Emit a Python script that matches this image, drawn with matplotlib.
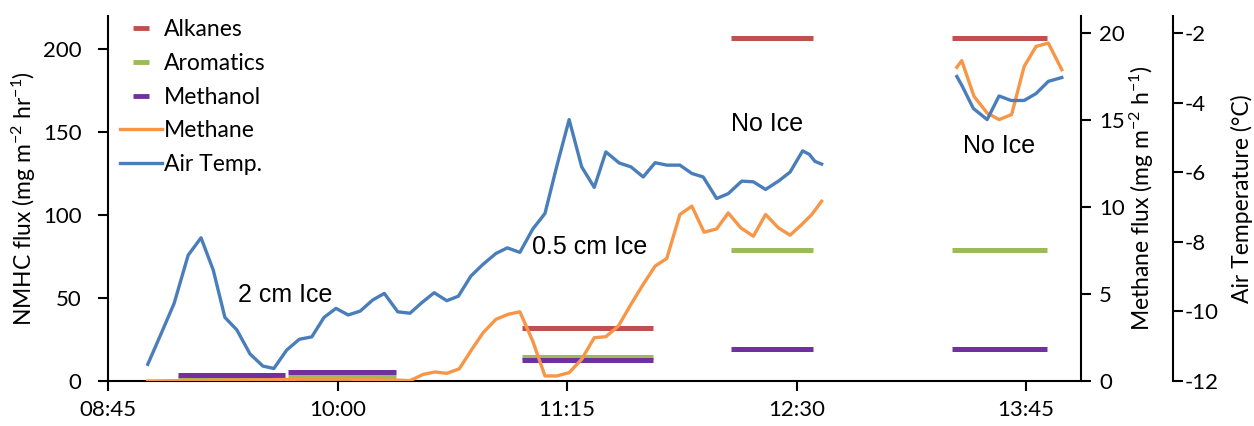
import matplotlib
matplotlib.use("Agg")
import matplotlib.pyplot as plt
from matplotlib.lines import Line2D

# ---------------- data (minutes after 08:45) ----------------
tick_pos = [0, 75, 150, 225, 300]
tick_labels = ["08:45", "10:00", "11:15", "12:30", "13:45"]

# air temperature, first period
temp_t1 = [13.0, 17.3, 21.6, 26.2, 30.4, 34.4, 38.2, 42.1, 46.4, 50.6, 54.2, 58.4, 62.5, 66.6,
           70.6, 74.5, 78.5, 82.4, 86.5, 90.3, 94.7, 98.7, 102.5, 106.6, 110.7, 114.5, 118.6,
           122.6, 126.8, 130.5, 134.6, 138.8, 142.8, 146.6, 150.7, 154.8, 158.9, 162.7, 167.1,
           170.9, 174.9, 178.8, 182.6, 186.9, 190.8, 194.5, 198.9, 202.7, 207.1, 210.9, 214.9,
           219.1, 222.9, 227.0, 229.2, 231.0, 233.2]
temp_v1 = [-11.52, -10.65, -9.77, -8.38, -7.88, -8.81, -10.17, -10.53, -11.22, -11.57, -11.64,
           -11.11, -10.80, -10.73, -10.17, -9.91, -10.10, -9.99, -9.67, -9.48, -10.01, -10.05,
           -9.75, -9.46, -9.69, -9.56, -8.98, -8.64, -8.33, -8.17, -8.30, -7.63, -7.18, -5.84,
           -4.48, -5.84, -6.43, -5.41, -5.73, -5.84, -6.13, -5.72, -5.79, -5.79, -6.03, -6.13,
           -6.75, -6.61, -6.25, -6.27, -6.49, -6.25, -5.99, -5.38, -5.48, -5.68, -5.76]
# air temperature, second period
temp_t2 = [277.4, 279.0, 282.8, 287.3, 291.2, 295.1, 299.4, 303.3, 307.3, 311.7]
temp_v2 = [-3.24, -3.49, -4.16, -4.48, -3.80, -3.93, -3.93, -3.73, -3.38, -3.27]

# methane flux, first period
ch4_t1 = [13.0, 21.6, 30.4, 38.2, 46.4, 54.2, 62.5, 70.6, 78.5, 86.5, 94.7, 98.7, 103.0,
          106.9, 110.7, 114.8, 118.9, 122.6, 126.8, 130.8, 134.6, 138.8, 142.8, 146.6, 150.7,
          154.8, 158.9, 162.7, 166.8, 170.9, 174.9, 178.8, 182.6, 186.9, 190.8, 194.8, 198.9,
          202.7, 206.8, 210.9, 214.9, 219.1, 222.9, 226.7, 230.0, 233.2]
ch4_v1 = [0.0, 0.02, 0.04, 0.05, 0.06, 0.08, 0.1, 0.1, 0.1, 0.08, 0.05, 0.02, 0.38,
          0.52, 0.44, 0.70, 1.82, 2.78, 3.55, 3.84, 3.98, 2.30, 0.29, 0.29, 0.48,
          1.25, 2.49, 2.55, 3.16, 4.41, 5.56, 6.61, 7.05, 9.58, 10.06, 8.56, 8.75,
          9.67, 8.81, 8.33, 9.58, 8.81, 8.39, 9.00, 9.58, 10.34]
# methane flux, second period
ch4_t2 = [277.4, 279.0, 283.0, 287.3, 291.2, 295.3, 299.4, 303.3, 307.3, 311.7]
ch4_v2 = [18.05, 18.43, 16.38, 15.42, 15.04, 15.33, 18.10, 19.25, 19.44, 17.91]

# NMHC flux periods
seg_start = [22.8, 58.9, 135.2, 203.5, 275.7]
seg_end = [57.8, 94.0, 178.0, 230.5, 306.8]
alkanes = [0.3, 0.3, 32.0, 207.0, 207.0]
aromatics = [1.2, 2.4, 14.3, 79.0, 79.0]
methanol = [3.6, 5.6, 12.8, 19.3, 19.3]

annotations = [("2 cm Ice", 57.8, 52), ("0.5 cm Ice", 157.5, 81),
               ("No Ice", 215.4, 155), ("No Ice", 291.2, 141.5)]

# ---------------- style ----------------
plt.rcParams['font.family'] = ['Lato', 'DejaVu Sans']
plt.rcParams['mathtext.fontset'] = 'custom'
plt.rcParams['mathtext.rm'] = 'Lato'
plt.rcParams['mathtext.it'] = 'Lato'
plt.rcParams['mathtext.default'] = 'regular'
plt.rcParams['axes.unicode_minus'] = False

c_alk = '#C0504D'
c_aro = '#9BBB59'
c_meoh = '#7030A0'
c_ch4 = '#F79646'
c_tmp = '#4A7EBB'
fs_tick = 16
fs_lab = 16.5
lw_line = 2.4

W, H = 1254, 426
fig = plt.figure(figsize=(W / 100, H / 100), dpi=100)
L, R, B, T = 108, 1081, 381, 16
ax = fig.add_axes([L / W, (H - B) / H, (R - L) / W, (B - T) / H])
ax2 = ax.twinx()
ax3 = ax.twinx()

# bars
ax.hlines(alkanes, seg_start, seg_end, colors=c_alk, lw=3.6)
ax.hlines(aromatics, seg_start, seg_end, colors=c_aro, lw=3.6)
ax.hlines(methanol, seg_start, seg_end, colors=c_meoh, lw=3.6)

ax2.plot(ch4_t1, ch4_v1, color=c_ch4, lw=lw_line)
ax2.plot(ch4_t2, ch4_v2, color=c_ch4, lw=lw_line)
ax3.plot(temp_t1, temp_v1, color=c_tmp, lw=lw_line)
ax3.plot(temp_t2, temp_v2, color=c_tmp, lw=lw_line)

xmax = (R - L) / 3.06
for a in (ax, ax2, ax3):
    a.set_xlim(0, xmax)
    for s in a.spines.values():
        s.set_linewidth(1.5)
    a.spines['top'].set_visible(False)

ax.set_ylim(0, 220)
ax2.set_ylim(0, 21)
ax3.set_ylim(-12, -1.5)

ax.spines['right'].set_visible(False)
ax2.spines['left'].set_visible(False)
ax2.spines['bottom'].set_visible(False)
ax3.spines['left'].set_visible(False)
ax3.spines['bottom'].set_visible(False)
ax3.spines['right'].set_position(('axes', 1 + 92 / (R - L)))

ax.set_xticks(tick_pos)
ax.set_xticklabels(tick_labels)
ax.set_yticks([0, 50, 100, 150, 200])
ax2.set_yticks([0, 5, 10, 15, 20])
ax3.set_yticks([-12, -10, -8, -6, -4, -2])

ax.tick_params(axis='x', length=7, width=1.5, labelsize=fs_tick, pad=7)
ax.tick_params(axis='y', length=7, width=1.5, labelsize=fs_tick, pad=12)
ax2.tick_params(axis='y', length=7, width=1.5, labelsize=fs_tick, pad=6)
ax3.tick_params(axis='y', length=7, width=1.5, labelsize=fs_tick, pad=1.5)

ax.set_ylabel('NMHC flux (mg m$^{-2}$ hr$^{-1}$)', fontsize=fs_lab)
ax2.set_ylabel('Methane flux (mg m$^{-2}$ h$^{-1}$)', fontsize=fs_lab)
ax3.set_ylabel('Air Temperature (°C)', fontsize=fs_lab)
ax.yaxis.set_label_coords((38 - L) / (R - L), 0.5)
ax2.yaxis.set_label_coords((1128 - L) / (R - L), 0.5)
ax3.yaxis.set_label_coords((1231 - L) / (R - L), 0.5)

for txt, x, y in annotations:
    ax.text(x, y, txt, ha='center', va='center', fontsize=18,
            family=['Liberation Sans', 'DejaVu Sans'])

handles = [
    Line2D([], [], color=c_alk, marker='_', markersize=11, mew=3.5, linestyle='None'),
    Line2D([], [], color=c_aro, marker='_', markersize=11, mew=3.5, linestyle='None'),
    Line2D([], [], color=c_meoh, marker='_', markersize=11, mew=3.5, linestyle='None'),
    Line2D([], [], color=c_ch4, lw=lw_line),
    Line2D([], [], color=c_tmp, lw=lw_line),
]
labels = ['Alkanes', 'Aromatics', 'Methanol', 'Methane', 'Air Temp.']
leg = ax3.legend(handles, labels, loc='upper left', bbox_to_anchor=(12 / (R - L), 0.992),
                 frameon=False, fontsize=fs_lab, handlelength=1.85, handletextpad=0.05,
                 labelspacing=0.56, borderpad=0, borderaxespad=0)

fig.savefig('out.png', dpi=100)
